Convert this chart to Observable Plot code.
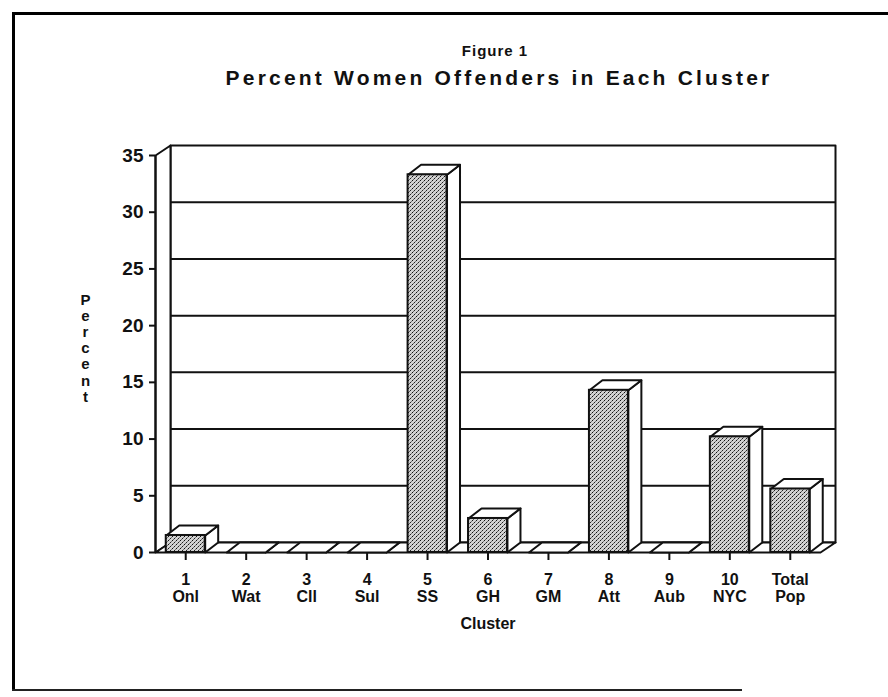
<!DOCTYPE html>
<html><head><meta charset="utf-8">
<script src="https://cdn.jsdelivr.net/npm/d3@7"></script>
<script src="https://cdn.jsdelivr.net/npm/@observablehq/plot@0.6"></script>
<style>
html,body{margin:0;padding:0;background:#fff;}
body{width:888px;height:697px;position:relative;overflow:hidden;font-family:"Liberation Sans",Arial,sans-serif;}
#frameTop{position:absolute;left:12px;top:12px;width:876px;height:0;border-top:3px solid #000;}
#frameLeft{position:absolute;left:12px;top:12px;width:0;height:679px;border-left:3px solid #000;}
#frameBottom{position:absolute;left:12px;top:689px;width:730px;height:0;border-top:2px solid #222;}
.ttl{position:absolute;width:800px;text-align:center;line-height:1;color:#111;white-space:nowrap;}
#fig{left:95px;top:43px;font-size:15px;font-weight:bold;letter-spacing:1px;}
#title{left:99px;top:67px;font-size:21px;font-weight:bold;letter-spacing:3.2px;}
#chart{position:absolute;left:0;top:100px;}
</style>
</head><body>
<div id="frameTop"></div><div id="frameLeft"></div><div id="frameBottom"></div>
<div class="ttl" id="fig">Figure 1</div>
<div class="ttl" id="title">Percent Women Offenders in Each Cluster</div>
<div id="chart"></div>
<script>
const clusters = ["1","2","3","4","5","6","7","8","9","10","Total"];
const names = ["Onl","Wat","Cll","Sul","SS","GH","GM","Att","Aub","NYC","Pop"];
const percents = [1.5,0,0,0,33.3,3.0,0,14.3,0,10.2,5.6];
const yTicks = [0,5,10,15,20,25,30,35];
const gridValues = [5,10,15,20,25,30];
const yLabel = "Percent";
const xLabel = "Cluster";

const W = 888, H = 560, mL = 155, mR = 68, mT = 55, mB = 108;
const n = clusters.length, yMax = 35;
const unitX = (W - mL - mR) / n, unitY = (H - mT - mB) / yMax;
const wallDX = 15 / unitX, wallDY = 10 / unitY;
const barDX = 13 / unitX, barDY = 10 / unitY;
const pad = 0.178;

function poly(arr, id, pts) { pts.concat([pts[0]]).forEach(([x, y]) => arr.push({id, x, y})); }
const back = [], sides = [], faces = [];
poly(back, "back", [[wallDX, wallDY], [n + wallDX, wallDY], [n + wallDX, yMax + wallDY], [wallDX, yMax + wallDY]]);
poly(sides, "left", [[0, 0], [0, yMax], [wallDX, yMax + wallDY], [wallDX, wallDY]]);
poly(sides, "floor", [[0, 0], [n, 0], [n + wallDX, wallDY], [wallDX, wallDY]]);
percents.forEach((v, i) => {
  const x1 = i + pad, x2 = i + 1 - pad;
  poly(faces, "side" + i, [[x2, 0], [x2 + barDX, barDY], [x2 + barDX, v + barDY], [x2, v]]);
  poly(faces, "top" + i, [[x1, v], [x2, v], [x2 + barDX, v + barDY], [x1 + barDX, v + barDY]]);
});
const idx = d3.range(n);

const chart = Plot.plot({
  width: W, height: H,
  marginLeft: mL, marginRight: mR, marginTop: mT, marginBottom: mB,
  style: {fontFamily: "'Liberation Sans', Arial, sans-serif", color: "#111", background: "transparent"},
  x: {type: "linear", domain: [0, n]},
  y: {domain: [0, yMax]},
  marks: [
    Plot.line(back, {x: "x", y: "y", z: "id", fill: "white", stroke: "#111", strokeWidth: 2}),
    Plot.ruleY(gridValues, {y: d => d + wallDY, x1: wallDX, x2: n + wallDX, stroke: "#111", strokeWidth: 2}),
    Plot.line(sides, {x: "x", y: "y", z: "id", fill: "white", stroke: "#111", strokeWidth: 2}),
    Plot.line(faces, {x: "x", y: "y", z: "id", fill: "white", stroke: "#111", strokeWidth: 2}),
    Plot.rectY(idx, {x1: i => i + pad, x2: i => i + 1 - pad, y1: 0, y2: i => percents[i], fill: "url(#stip)", stroke: "#111", strokeWidth: 2}),
    Plot.ruleX([0], {y1: 0, y2: yMax, stroke: "#111", strokeWidth: 2}),
    Plot.axisY(yTicks, {tickSize: 6, tickPadding: 6, fontSize: 19, fontWeight: "bold", strokeWidth: 2, label: null}),
    Plot.axisX(idx.map(i => i + 0.5), {tickSize: 8, tickPadding: 12, fontSize: 16, fontWeight: "bold", lineHeight: 1.08, strokeWidth: 2,
      tickFormat: d => clusters[Math.floor(d)] + "\n" + names[Math.floor(d)], label: null}),
    Plot.text([xLabel], {text: d => d, frameAnchor: "bottom", dy: 76, fontSize: 16, fontWeight: "bold"}),
    Plot.text([yLabel.split("").join("\n")], {text: d => d, frameAnchor: "left", textAnchor: "middle", dx: -70, dy: -6, fontSize: 15, fontWeight: "bold", lineHeight: 1.08})
  ]
});
const ns = "http://www.w3.org/2000/svg";
const defs = document.createElementNS(ns, "defs");
defs.innerHTML = `<pattern id="stip" patternUnits="userSpaceOnUse" width="4" height="4">
  <rect width="4" height="4" fill="#d2d2d2"/>
  <rect x="0" y="0" width="1" height="1" fill="#111"/>
  <rect x="2" y="2" width="1" height="1" fill="#222"/>
  <rect x="1" y="3" width="1" height="1" fill="#666"/>
  <rect x="3" y="1" width="1" height="1" fill="#777"/>
</pattern>`;
chart.insertBefore(defs, chart.firstChild);
document.getElementById("chart").appendChild(chart);
</script>
</body></html>
